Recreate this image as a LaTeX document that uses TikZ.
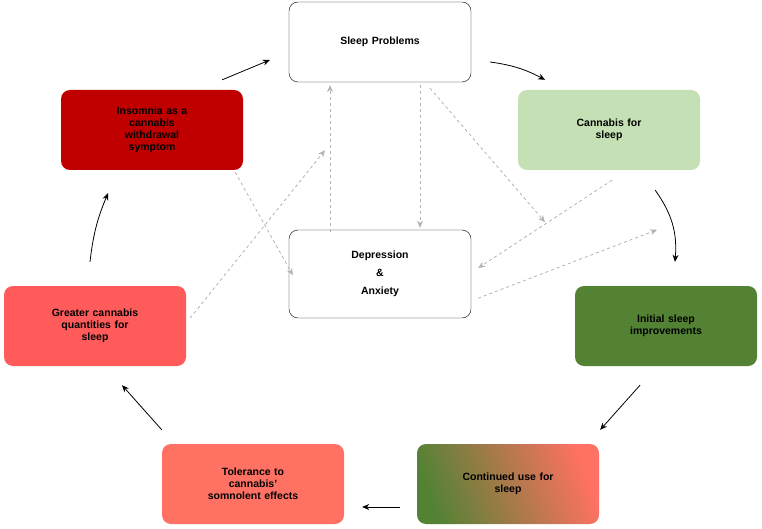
\documentclass[tikz,border=0pt]{standalone}
\usepackage{fontspec}
\setmainfont{Liberation Sans}
\usetikzlibrary{arrows.meta, positioning}
\definecolor{darkred}{HTML}{C00000}
\definecolor{lightgreen}{HTML}{C5E0B4}
\definecolor{darkgreen}{HTML}{548235}
\definecolor{redbox}{HTML}{FF5B5B}
\definecolor{salmon}{HTML}{FF7163}
\begin{document}
\begin{tikzpicture}[x=1pt,y=-1pt]
    \tikzstyle{box}=[rounded corners=9pt,minimum width=182pt,minimum height=80pt,
      text width=150pt,align=center,font=\fontsize{10.5}{12}\selectfont\bfseries]
    \tikzstyle{cycle}=[-{Stealth[length=7pt,width=6pt]},thick,black]
    \tikzstyle{link}=[-{Stealth[length=7pt,width=6pt]},thick,dashed,gray!60]

    \useasboundingbox (0,0) rectangle (762,529);

    \node[box,draw,fill=white] (SP) at (380,42) {Sleep Problems};
    \node[box,fill=lightgreen] (CS) at (609,130) {Cannabis for\\sleep};
    \node[box,fill=darkgreen] (IS) at (666,326) {Initial sleep\\improvements};
    \node[box,shading=axis,left color=salmon,middle color=lightgreen,
      right color=darkgreen,shading angle=-70] (CU) at (508,484) {Continued use for\\sleep};
    \node[box,fill=salmon] (TC) at (253,484) {Tolerance to\\cannabis'\\somnolent effects};
    \node[box,fill=redbox] (GC) at (95,326) {Greater cannabis\\quantities for\\sleep};
    \node[box,fill=darkred] (IW) at (152,130) {Insomnia as a\\cannabis\\withdrawal\\symptom};
    \node[box,draw,fill=white,minimum height=88pt] (DA) at (380,274) {Depression\\[6pt]\&\\[6pt]Anxiety};

    % main cycle
    \draw[cycle] ([xshift=19pt,yshift=-20pt]SP.east) to[bend left=10] ([xshift=-64pt,yshift=10pt]CS.north);
    \draw[cycle] ([xshift=-45pt,yshift=-20pt]CS.south east) to[bend left=20] ([xshift=9pt,yshift=24pt]IS.north);
    \draw[cycle] ([xshift=-26pt,yshift=-19pt]IS.south) to ([xshift=1pt,yshift=14pt]CU.north east);
    \draw[cycle] ([xshift=-17pt,yshift=-23pt]CU.west) to ([xshift=18pt,yshift=-23pt]TC.east);
    \draw[cycle] ([yshift=14pt]TC.north west) to ([xshift=27pt,yshift=-19pt]GC.south);
    \draw[cycle] ([xshift=-5pt,yshift=24pt]GC.north) to[bend left=8] ([xshift=-44pt,yshift=-23pt]IW.south);
    \draw[cycle] ([xshift=-21pt,yshift=10pt]IW.north east) to ([xshift=-19pt,yshift=-18pt]SP.west);

    % links to depression
    \draw[link] ([xshift=-8pt,yshift=-2pt]IW.south east) -- ([xshift=4pt,yshift=43pt]DA.south west);
    \draw[link] ([xshift=4pt,yshift=8pt]GC.east) -- ([xshift=-55pt,yshift=-68pt]SP.south);
    \draw[link] ([xshift=-50pt,yshift=-2pt]DA.north) -- ([xshift=-50pt,yshift=-3pt]SP.south);
    \draw[link] ([xshift=40pt,yshift=-3pt]SP.south) -- ([xshift=40pt,yshift=2pt]DA.north);
    \draw[link] ([xshift=50pt,yshift=-6pt]SP.south) -- ([xshift=-64pt,yshift=-52pt]CS.south);
    \draw[link] ([xshift=3pt,yshift=-10pt]CS.south) -- ([xshift=7pt,yshift=6pt]DA.east);
    \draw[link] ([xshift=7pt,yshift=20pt]DA.south east) -- ([xshift=-9pt,yshift=56pt]IS.north);
\end{tikzpicture}
\end{document}
